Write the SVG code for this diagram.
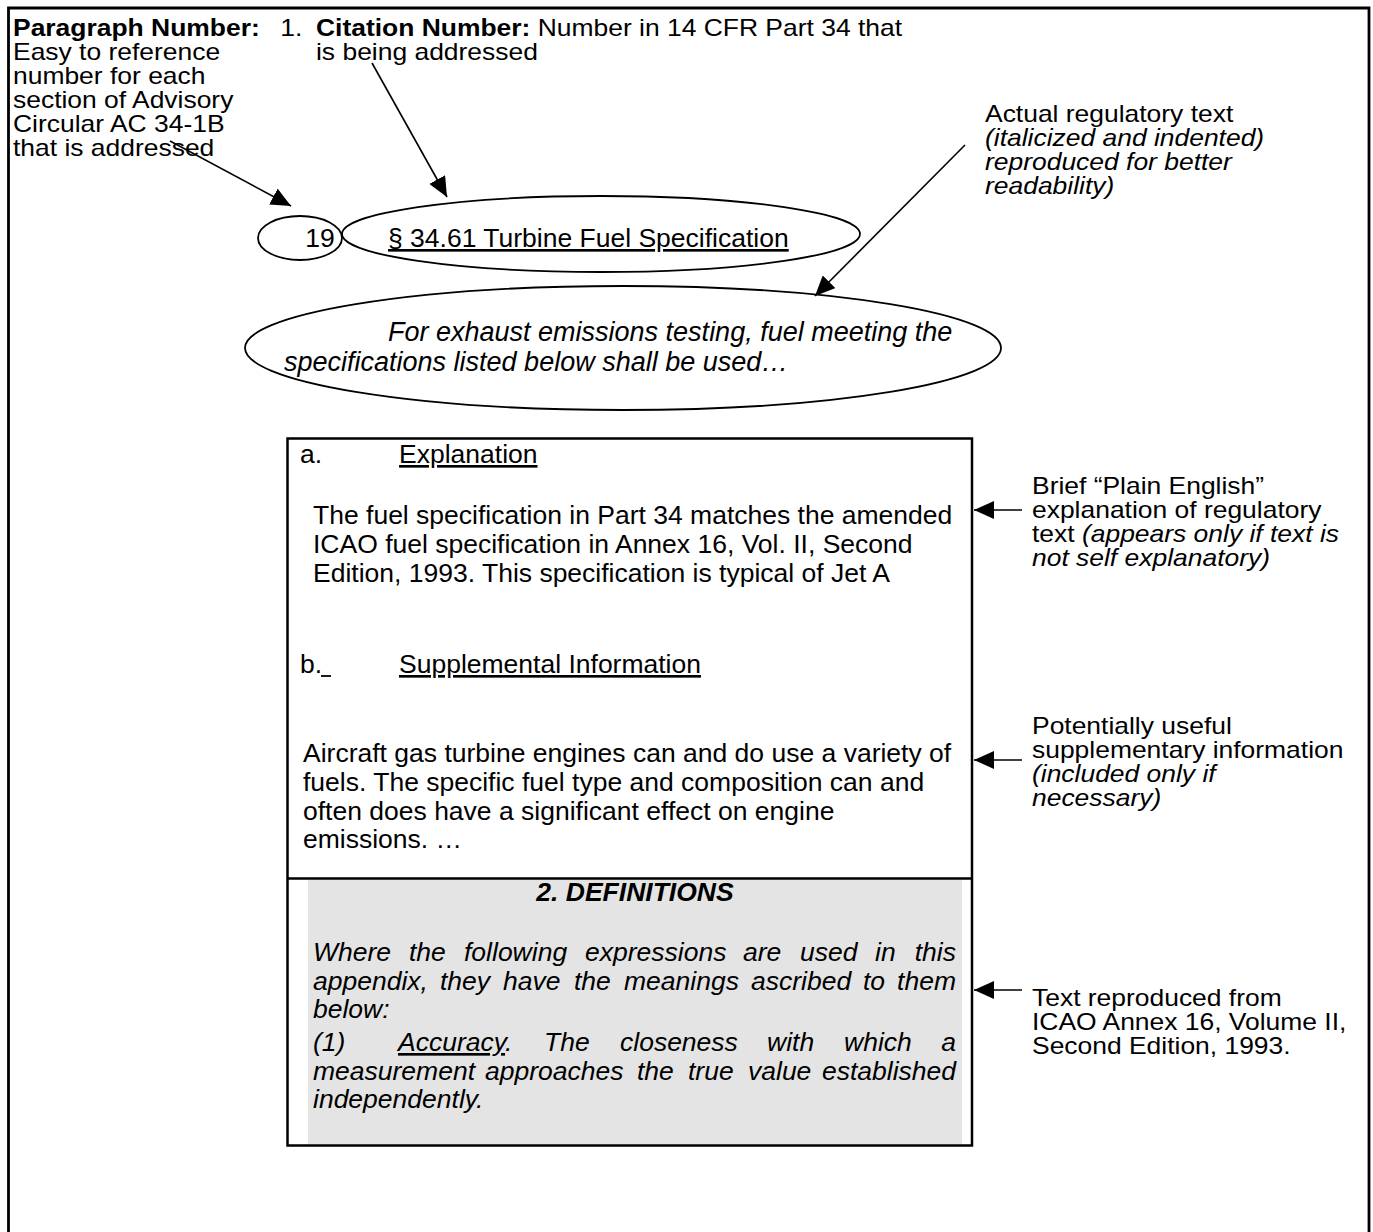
<svg xmlns="http://www.w3.org/2000/svg" width="1373" height="1232" viewBox="0 0 1373 1232">
<style>
text { font-family: "Liberation Sans", Arial, sans-serif; font-size: 26.5px; fill: #000; }
.note text { font-size: 23px; }
.b { font-weight: bold; }
.i { font-style: italic; }
.u { text-decoration: underline; }
.big { font-size: 27px; }
.node { fill: none; stroke: #000; stroke-width: 1.8; }
.conn { fill: none; stroke: #000; stroke-width: 1.6; marker-end: url(#arr); }
.rule { stroke: #000; stroke-width: 2.5; fill: none; }
</style>
<defs>
<marker id="arr" markerUnits="userSpaceOnUse" markerWidth="20" markerHeight="18" refX="20" refY="9" orient="auto">
<path d="M0,0 L20,9 L0,18 z" fill="#000"/>
</marker>
</defs>
<rect width="1373" height="1232" fill="#fff"/>
<path id="frame" d="M8.5,1232 V8 H1369 V1232" fill="none" stroke="#000" stroke-width="2.8"/>

<g id="note-paragraph" class="note" transform="translate(13 0) scale(1.15 1)">
<text x="0" y="36" class="b">Paragraph Number:</text>
<text x="0" y="60">Easy to reference</text>
<text x="0" y="84">number for each</text>
<text x="0" y="108">section of Advisory</text>
<text x="0" y="132">Circular AC 34-1B</text>
<text x="0" y="156">that is addressed</text>
</g>

<g id="note-citation" class="note" transform="translate(316 0) scale(1.15 1)">
<text x="-31" y="36">1.</text>
<text x="0" y="36"><tspan class="b">Citation Number:</tspan>  Number in 14 CFR Part 34 that</text>
<text x="0" y="60">is being addressed</text>
</g>

<g id="note-regulatory" class="note" transform="translate(985 0) scale(1.15 1)">
<text x="0" y="122">Actual regulatory text</text>
<text x="0" y="146" class="i">(italicized and indented)</text>
<text x="0" y="170" class="i">reproduced for better</text>
<text x="0" y="194" class="i">readability)</text>
</g>

<g id="node-19">
<ellipse class="node" cx="300" cy="238" rx="42" ry="22"/>
<text x="320" y="247" text-anchor="middle">19</text>
</g>

<g id="node-citation">
<ellipse class="node" cx="601" cy="234" rx="259" ry="38"/>
<text x="388" y="247" class="u">§ 34.61 Turbine Fuel Specification</text>
</g>

<g id="node-regtext">
<ellipse class="node" cx="623" cy="348" rx="378" ry="62"/>
<text x="388" y="341" class="i big">For exhaust emissions testing, fuel meeting the</text>
<text x="284" y="371" class="i big">specifications listed below shall be used…</text>
</g>

<g id="box">
<rect x="308" y="879.5" width="654" height="265" fill="#e4e4e4"/>
<rect class="rule" x="287.5" y="438.5" width="684.5" height="707"/>
<line class="rule" x1="287.5" y1="878.5" x2="972" y2="878.5"/>
<text x="300" y="463">a.</text>
<text x="399" y="463" class="u">Explanation</text>
<text x="313" y="524">The fuel specification in Part 34 matches the amended</text>
<text x="313" y="553">ICAO fuel specification in Annex 16, Vol. II, Second</text>
<text x="313" y="582">Edition, 1993. This specification is typical of Jet A</text>
<text x="300" y="673">b.</text>
<line x1="321" y1="676" x2="331" y2="676" stroke="#000" stroke-width="1.8"/>
<text x="399" y="673" class="u">Supplemental Information</text>
<text x="303" y="762">Aircraft gas turbine engines can and do use a variety of</text>
<text x="303" y="791">fuels.  The specific fuel type and composition can and</text>
<text x="303" y="820">often does have a significant effect on engine</text>
<text x="303" y="848">emissions.  …</text>
<text x="635" y="901" class="b i" text-anchor="middle">2. DEFINITIONS</text>
<text y="961" class="i"><tspan x="313">Where</tspan><tspan x="409">the</tspan><tspan x="464">following</tspan><tspan x="585">expressions</tspan><tspan x="743">are</tspan><tspan x="800">used</tspan><tspan x="875">in</tspan><tspan x="956" text-anchor="end">this</tspan></text>
<text y="990" class="i"><tspan x="313">appendix,</tspan><tspan x="440">they</tspan><tspan x="503">have</tspan><tspan x="574">the</tspan><tspan x="624">meanings</tspan><tspan x="751">ascribed</tspan><tspan x="863">to</tspan><tspan x="956" text-anchor="end">them</tspan></text>
<text x="313" y="1018" class="i">below:</text>
<text y="1051" class="i"><tspan x="313">(1)</tspan><tspan x="398" class="u">Accuracy</tspan><tspan>.</tspan><tspan x="544">The</tspan><tspan x="620">closeness</tspan><tspan x="767">with</tspan><tspan x="844">which</tspan><tspan x="956" text-anchor="end">a</tspan></text>
<text y="1080" class="i"><tspan x="313">measurement</tspan><tspan x="485">approaches</tspan><tspan x="637">the</tspan><tspan x="688">true</tspan><tspan x="748">value</tspan><tspan x="956" text-anchor="end">established</tspan></text>
<text x="313" y="1108" class="i">independently.</text>
</g>

<g id="note-explanation" class="note" transform="translate(1032 0) scale(1.15 1)">
<text x="0" y="494">Brief “Plain English”</text>
<text x="0" y="518">explanation of regulatory</text>
<text x="0" y="542">text <tspan class="i">(appears only if text is</tspan></text>
<text x="0" y="566" class="i">not self explanatory)</text>
</g>

<g id="note-supplemental" class="note" transform="translate(1032 0) scale(1.15 1)">
<text x="0" y="734">Potentially useful</text>
<text x="0" y="758">supplementary information</text>
<text x="0" y="782" class="i">(included only if</text>
<text x="0" y="806" class="i">necessary)</text>
</g>

<g id="note-icao" class="note" transform="translate(1032 0) scale(1.15 1)">
<text x="0" y="1006">Text reproduced from</text>
<text x="0" y="1030">ICAO Annex 16, Volume II,</text>
<text x="0" y="1054">Second Edition, 1993.</text>
</g>

<g id="connectors">
<line class="conn" x1="170" y1="141" x2="291" y2="206"/>
<line class="conn" x1="372" y1="63" x2="447" y2="197"/>
<line class="conn" x1="965" y1="145" x2="815" y2="296"/>
<line class="conn" x1="1022" y1="510" x2="974" y2="510"/>
<line class="conn" x1="1022" y1="760" x2="974" y2="760"/>
<line class="conn" x1="1022" y1="990" x2="974" y2="990"/>
</g>
</svg>
